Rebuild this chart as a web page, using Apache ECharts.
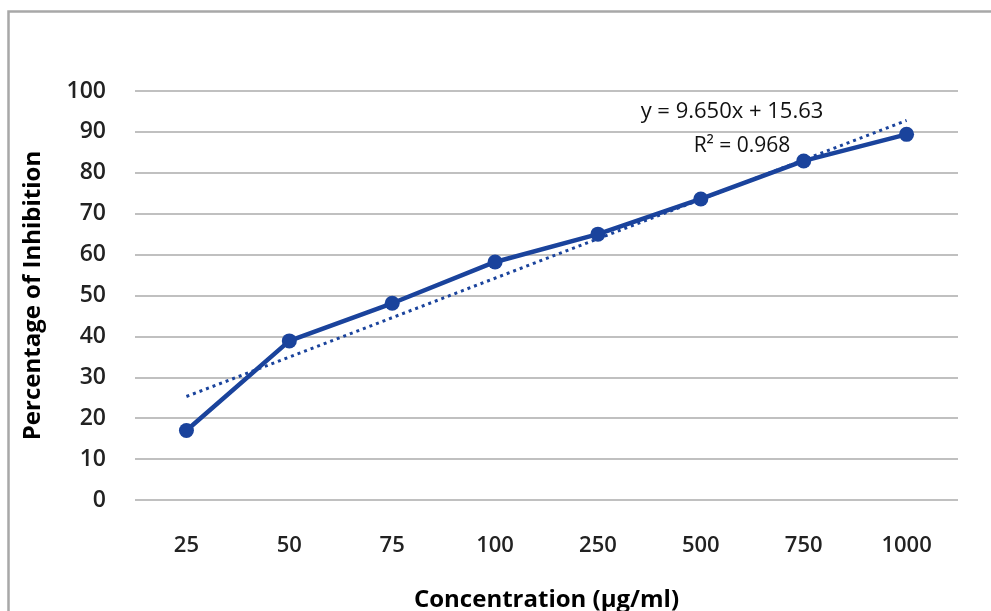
<!DOCTYPE html>
<html><head><meta charset="utf-8">
<script src="https://cdn.jsdelivr.net/npm/echarts@6/dist/echarts.min.js"></script>
<style>html,body{margin:0;padding:0;background:#fff;overflow:hidden;}#c{width:991px;height:611px;}</style>
</head><body><div id="c"></div>
<script>
const categories = ['25','50','75','100','250','500','750','1000'];
const inhibition = [17, 38.9, 48.1, 58.2, 65, 73.6, 82.9, 89.4];
const trendline = [25.3, null, null, null, null, null, null, 92.8];
const yTicks = {min: 0, max: 100, interval: 10};
const equationText = 'y = 9.650x + 15.63';
const r2Text = 'R² = 0.968';

const font = '"Open Sans", "Noto Sans", sans-serif';
const blue = '#1a439c';
const chart = echarts.init(document.getElementById('c'));
chart.setOption({
  animation: false,
  grid: {left: 135, right: 33, top: 91, bottom: 111, containLabel: false, outerBoundsMode: 'none'},
  xAxis: {
    type: 'category', data: categories, boundaryGap: true,
    axisLine: {show: false}, axisTick: {show: false},
    axisLabel: {margin: 35, fontFamily: font, fontSize: 22, fontWeight: 600, color: '#222'},
    name: 'Concentration (µg/ml)', nameLocation: 'middle', nameGap: 88,
    nameTextStyle: {fontFamily: font, fontSize: 24, fontWeight: 'bold', color: '#000'}
  },
  yAxis: {
    type: 'value', min: yTicks.min, max: yTicks.max, interval: yTicks.interval,
    axisLine: {show: false}, axisTick: {show: false},
    splitLine: {lineStyle: {color: '#ababab', width: 1.5}},
    axisLabel: {margin: 29, fontFamily: font, fontSize: 23, fontWeight: 600, color: '#222'},
    name: 'Percentage of Inhibition', nameLocation: 'middle', nameGap: 90,
    nameTextStyle: {fontFamily: font, fontSize: 24, fontWeight: 'bold', color: '#000'}
  },
  series: [
    {type: 'line', data: trendline, connectNulls: true, symbol: 'none', silent: true,
     lineStyle: {color: blue, width: 3, type: [3, 4]}, z: 1},
    {type: 'line', data: inhibition, symbol: 'circle', symbolSize: 15,
     lineStyle: {color: blue, width: 4.5}, itemStyle: {color: blue}, z: 2}
  ],
  graphic: [
    {type: 'rect', shape: {x: 8.5, y: 11.5, width: 1100, height: 700},
     style: {fill: 'none', stroke: '#a8a8a8', lineWidth: 2.5}, silent: true, z: -1},
    {type: 'text', x: 732, y: 112,
     style: {text: equationText, font: '500 22px ' + font, fill: '#111', align: 'center', verticalAlign: 'middle'}},
    {type: 'text', x: 742, y: 146,
     style: {text: r2Text, font: '500 21px ' + font, fill: '#111', align: 'center', verticalAlign: 'middle'}}
  ]
});
</script></body></html>
